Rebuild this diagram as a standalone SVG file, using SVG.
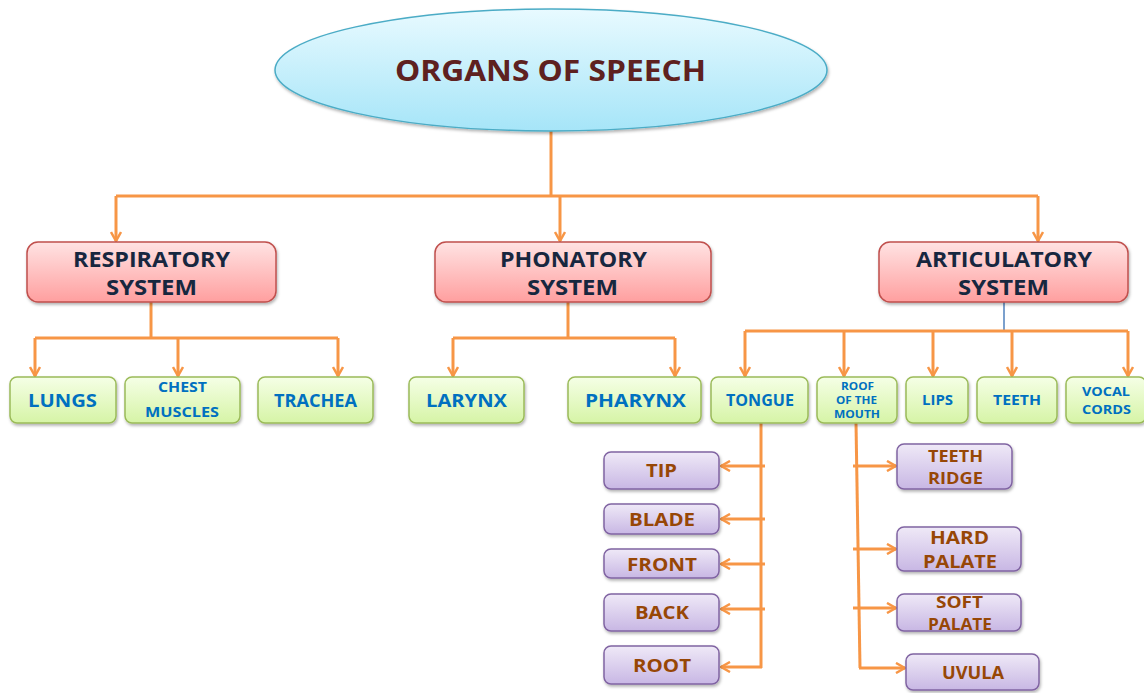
<svg xmlns="http://www.w3.org/2000/svg" width="1144" height="693" viewBox="0 0 1144 693">
<defs>
<linearGradient id="gEll" x1="0" y1="0" x2="0" y2="1"><stop offset="0" stop-color="#e8faff"/><stop offset="1" stop-color="#a6e5f8"/></linearGradient>
<linearGradient id="gRed" x1="0" y1="0" x2="0" y2="1"><stop offset="0" stop-color="#ffe3e3"/><stop offset="1" stop-color="#ff9f9f"/></linearGradient>
<linearGradient id="gGrn" x1="0" y1="0" x2="0" y2="1"><stop offset="0" stop-color="#f5ffe6"/><stop offset="1" stop-color="#d6f4a6"/></linearGradient>
<linearGradient id="gPur" x1="0" y1="0" x2="0" y2="1"><stop offset="0" stop-color="#efe9f7"/><stop offset="1" stop-color="#c8b7e4"/></linearGradient>
<filter id="sh" x="-10%" y="-10%" width="120%" height="130%"><feDropShadow dx="1" dy="2" stdDeviation="1.5" flood-color="#000" flood-opacity="0.3"/></filter>
<marker id="ah" viewBox="0 0 12 12" refX="11" refY="6" markerWidth="12" markerHeight="12" orient="auto" markerUnits="userSpaceOnUse"><path d="M2,1 L11,6 L2,11" fill="none" stroke="#f79646" stroke-width="2.5"/></marker>
<style>
.c{fill:none;stroke:#f79646;stroke-width:3}
.a{fill:none;stroke:#f79646;stroke-width:3;marker-end:url(#ah)}
.red{fill:url(#gRed);stroke:#c0504d;stroke-width:1.5;filter:url(#sh)}
.grn{fill:url(#gGrn);stroke:#9bbb59;stroke-width:1.5;filter:url(#sh)}
.pur{fill:url(#gPur);stroke:#8064a2;stroke-width:1.5;filter:url(#sh)}
text{font-family:"Open Sans","Liberation Sans",sans-serif;font-weight:bold;text-anchor:middle}
.tr{fill:#17273f;font-size:21px}
.tg{fill:#0070c0}
.tp{fill:#974706}
</style>
</defs>
<g id="connectors">
<path class="c" d="M551,131 V196"/>
<path class="c" d="M116,196 H1038"/>
<path class="a" d="M116,196 V241"/>
<path class="a" d="M560,196 V241"/>
<path class="a" d="M1038,196 V241"/>
<path class="c" d="M151,302 V338"/>
<path class="c" d="M35,338 H338"/>
<path class="a" d="M35,338 V376"/>
<path class="a" d="M178,338 V376"/>
<path class="a" d="M338,338 V376"/>
<path class="c" d="M568,302 V338"/>
<path class="c" d="M453,338 H675"/>
<path class="a" d="M453,338 V376"/>
<path class="a" d="M675,338 V376"/>
<path d="M1004,302 V331" fill="none" stroke="#4f81bd" stroke-width="1.5"/>
<path class="c" d="M745,331 H1128"/>
<path class="a" d="M745,331 V376"/>
<path class="a" d="M844,331 V376"/>
<path class="a" d="M933,331 V376"/>
<path class="a" d="M1012,331 V376"/>
<path class="a" d="M1128,331 V376"/>
<path class="c" d="M761,423 V668"/>
<path class="a" d="M765,466 H721"/>
<path class="a" d="M765,519 H721"/>
<path class="a" d="M765,564 H721"/>
<path class="a" d="M765,609 H721"/>
<path class="a" d="M762,667 H721"/>
<path class="c" d="M856,423 L860,668"/>
<path class="a" d="M853,466 H896"/>
<path class="a" d="M853,549 H896"/>
<path class="a" d="M853,608 H896"/>
<path class="a" d="M859,668 H905"/>
</g>
<g id="n-root"><ellipse cx="551" cy="70" rx="276" ry="61" fill="url(#gEll)" stroke="#4bacc6" stroke-width="1.5" filter="url(#sh)"/><text x="550.5" y="81" font-size="28" fill="#5e2120" textLength="311" lengthAdjust="spacingAndGlyphs">ORGANS OF SPEECH</text></g>
<g id="n-resp"><rect class="red" x="27" y="242" width="249" height="60" rx="11"/><text class="tr" x="151.5" y="267" textLength="157" lengthAdjust="spacingAndGlyphs">RESPIRATORY</text><text class="tr" x="151.5" y="295" textLength="91" lengthAdjust="spacingAndGlyphs">SYSTEM</text></g>
<g id="n-phon"><rect class="red" x="435" y="242" width="276" height="60" rx="11"/><text class="tr" x="573.5" y="267" textLength="147" lengthAdjust="spacingAndGlyphs">PHONATORY</text><text class="tr" x="572.5" y="295" textLength="91" lengthAdjust="spacingAndGlyphs">SYSTEM</text></g>
<g id="n-art"><rect class="red" x="879" y="242" width="249" height="60" rx="11"/><text class="tr" x="1004" y="267" textLength="176" lengthAdjust="spacingAndGlyphs">ARTICULATORY</text><text class="tr" x="1003.5" y="295" textLength="91" lengthAdjust="spacingAndGlyphs">SYSTEM</text></g>
<g id="n-lungs"><rect class="grn" x="10" y="377" width="106" height="46" rx="7"/><text class="tg" x="62.5" y="407" font-size="18.5" textLength="69" lengthAdjust="spacingAndGlyphs">LUNGS</text></g>
<g id="n-chest"><rect class="grn" x="125" y="377" width="115" height="46" rx="7"/><text class="tg" x="182.5" y="392" font-size="14" textLength="49" lengthAdjust="spacingAndGlyphs">CHEST</text><text class="tg" x="182" y="417" font-size="14.5" textLength="74" lengthAdjust="spacingAndGlyphs">MUSCLES</text></g>
<g id="n-trachea"><rect class="grn" x="258" y="377" width="115" height="46" rx="7"/><text class="tg" x="315.5" y="406.5" font-size="17.5" textLength="83" lengthAdjust="spacingAndGlyphs">TRACHEA</text></g>
<g id="n-larynx"><rect class="grn" x="409" y="377" width="115" height="46" rx="7"/><text class="tg" x="466.5" y="407" font-size="18.5" textLength="81" lengthAdjust="spacingAndGlyphs">LARYNX</text></g>
<g id="n-pharynx"><rect class="grn" x="568" y="377" width="133" height="46" rx="7"/><text class="tg" x="635.5" y="407" font-size="18.5" textLength="101" lengthAdjust="spacingAndGlyphs">PHARYNX</text></g>
<g id="n-tongue"><rect class="grn" x="711" y="377" width="97" height="46" rx="7"/><text class="tg" x="760" y="405.5" font-size="15.5" textLength="68" lengthAdjust="spacingAndGlyphs">TONGUE</text></g>
<g id="n-roof"><rect class="grn" x="817" y="377" width="80" height="46" rx="7"/><text class="tg" x="857.5" y="389.5" font-size="10" textLength="33" lengthAdjust="spacingAndGlyphs">ROOF</text><text class="tg" x="856.5" y="403.5" font-size="10" textLength="41" lengthAdjust="spacingAndGlyphs">OF THE</text><text class="tg" x="857" y="417.5" font-size="10" textLength="46" lengthAdjust="spacingAndGlyphs">MOUTH</text></g>
<g id="n-lips"><rect class="grn" x="906" y="377" width="62" height="46" rx="7"/><text class="tg" x="937.5" y="405" font-size="15" textLength="31" lengthAdjust="spacingAndGlyphs">LIPS</text></g>
<g id="n-teeth"><rect class="grn" x="977" y="377" width="80" height="46" rx="7"/><text class="tg" x="1017" y="405" font-size="15" textLength="48" lengthAdjust="spacingAndGlyphs">TEETH</text></g>
<g id="n-vocal"><rect class="grn" x="1066" y="377" width="80" height="46" rx="7"/><text class="tg" x="1106" y="396" font-size="13" textLength="48" lengthAdjust="spacingAndGlyphs">VOCAL</text><text class="tg" x="1106.5" y="414" font-size="13" textLength="49" lengthAdjust="spacingAndGlyphs">CORDS</text></g>
<g id="n-tip"><rect class="pur" x="604" y="452" width="115" height="37" rx="7"/><text class="tp" x="661.5" y="477" font-size="17.5" textLength="31" lengthAdjust="spacingAndGlyphs">TIP</text></g>
<g id="n-blade"><rect class="pur" x="604" y="504" width="115" height="30" rx="7"/><text class="tp" x="662" y="526" font-size="17.5" textLength="66" lengthAdjust="spacingAndGlyphs">BLADE</text></g>
<g id="n-front"><rect class="pur" x="604" y="549" width="115" height="29" rx="7"/><text class="tp" x="662" y="570.5" font-size="17.5" textLength="70" lengthAdjust="spacingAndGlyphs">FRONT</text></g>
<g id="n-back"><rect class="pur" x="604" y="594" width="115" height="37" rx="7"/><text class="tp" x="662" y="619" font-size="17.5" textLength="54" lengthAdjust="spacingAndGlyphs">BACK</text></g>
<g id="n-root2"><rect class="pur" x="604" y="646" width="115" height="38" rx="7"/><text class="tp" x="662" y="671.5" font-size="17.5" textLength="58" lengthAdjust="spacingAndGlyphs">ROOT</text></g>
<g id="n-ridge"><rect class="pur" x="897" y="444" width="115" height="45" rx="7"/><text class="tp" x="955.5" y="462" font-size="16.5" textLength="55" lengthAdjust="spacingAndGlyphs">TEETH</text><text class="tp" x="955.5" y="484" font-size="16.5" textLength="55" lengthAdjust="spacingAndGlyphs">RIDGE</text></g>
<g id="n-hard"><rect class="pur" x="897" y="527" width="124" height="44" rx="7"/><text class="tp" x="959.5" y="544" font-size="18" textLength="59" lengthAdjust="spacingAndGlyphs">HARD</text><text class="tp" x="960" y="568" font-size="18" textLength="74" lengthAdjust="spacingAndGlyphs">PALATE</text></g>
<g id="n-soft"><rect class="pur" x="897" y="594" width="124" height="37" rx="7"/><text class="tp" x="959.5" y="608" font-size="16" textLength="47" lengthAdjust="spacingAndGlyphs">SOFT</text><text class="tp" x="960" y="630" font-size="16" textLength="64" lengthAdjust="spacingAndGlyphs">PALATE</text></g>
<g id="n-uvula"><rect class="pur" x="906" y="654" width="133" height="36" rx="7"/><text class="tp" x="973" y="679" font-size="17.5" textLength="62" lengthAdjust="spacingAndGlyphs">UVULA</text></g>
</svg>
